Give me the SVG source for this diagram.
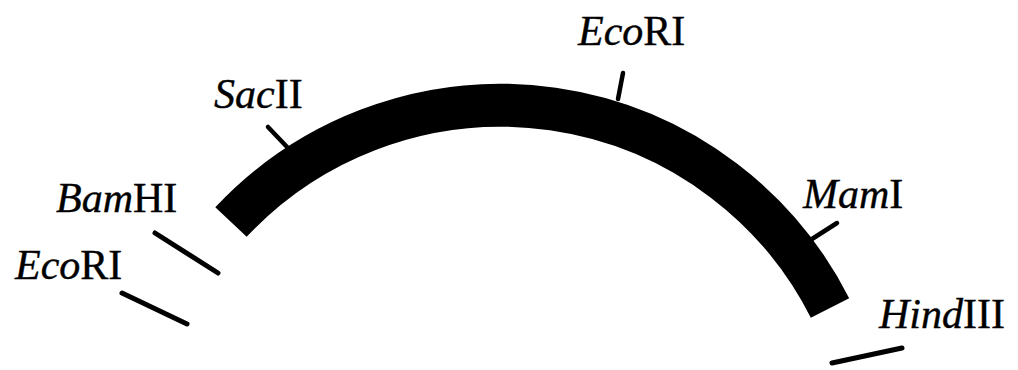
<svg xmlns="http://www.w3.org/2000/svg" width="1018" height="370" viewBox="0 0 1018 370">
<style>
.lbl{font-family:"Liberation Serif","Times New Roman",serif;font-size:42px;fill:#000;stroke:#000;stroke-width:0.4}
.it{font-style:italic}
.tick{stroke:#000;stroke-width:4.5;stroke-linecap:round;fill:none}
.frag{stroke:#000;stroke-width:5;stroke-linecap:round;fill:none}
</style>
<rect width="1018" height="370" fill="#fff"/>
<g id="vector">
<path d="M 231 222 A 369.3 369.3 0 0 1 830 308" stroke="#000" stroke-width="43" fill="none" stroke-linecap="butt"/>
</g>
<g id="connectors">
<line class="tick" x1="268" y1="127" x2="288" y2="148"/>
<line class="tick" x1="623" y1="73" x2="618" y2="99"/>
<line class="tick" x1="837" y1="223" x2="812" y2="239"/>
<line class="frag" x1="155" y1="233" x2="218" y2="273"/>
<line class="frag" x1="122" y1="293" x2="187" y2="324"/>
<line class="frag" x1="832" y1="363" x2="902" y2="348"/>
</g>
<g id="label-BamHI"><text class="lbl" x="56" y="212"><tspan class="it">Bam</tspan>HI</text></g>
<g id="label-EcoRI-left"><text class="lbl" x="15" y="279"><tspan class="it">Eco</tspan>RI</text></g>
<g id="label-SacII"><text class="lbl" x="214" y="108"><tspan class="it">Sac</tspan>II</text></g>
<g id="label-EcoRI-top"><text class="lbl" x="578" y="45"><tspan class="it">Eco</tspan>RI</text></g>
<g id="label-MamI"><text class="lbl" x="803" y="208"><tspan class="it">Mam</tspan>I</text></g>
<g id="label-HindIII"><text class="lbl" x="879" y="328"><tspan class="it">Hind</tspan>III</text></g>
</svg>
